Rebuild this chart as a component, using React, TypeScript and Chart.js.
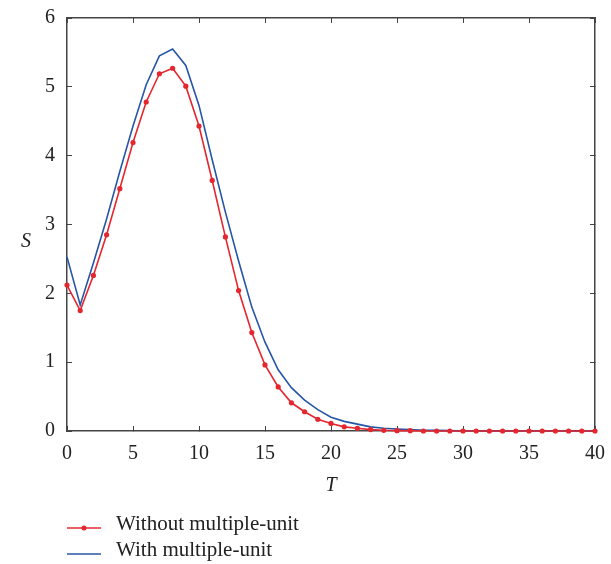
import React, { useEffect, useRef } from "react";
import { Chart, registerables } from "chart.js";

Chart.register(...registerables);

const tValues = [0, 1, 2, 3, 4, 5, 6, 7, 8, 9, 10, 11, 12, 13, 14, 15, 16, 17, 18, 19, 20, 21, 22, 23, 24, 25, 26, 27, 28, 29, 30, 31, 32, 33, 34, 35, 36, 37, 38, 39, 40];
const withoutMultipleUnit = [2.12, 1.75, 2.26, 2.85, 3.52, 4.19, 4.78, 5.19, 5.27, 5.01, 4.43, 3.64, 2.82, 2.04, 1.43, 0.96, 0.64, 0.41, 0.28, 0.17, 0.11, 0.06, 0.04, 0.02, 0.01, 0.005, 0.005, 0, 0, 0, 0, 0, 0, 0, 0, 0, 0, 0, 0, 0, 0];
const withMultipleUnit = [2.53, 1.83, 2.44, 3.08, 3.77, 4.43, 5.03, 5.45, 5.55, 5.31, 4.73, 3.94, 3.18, 2.47, 1.8, 1.29, 0.89, 0.63, 0.45, 0.31, 0.2, 0.14, 0.1, 0.06, 0.04, 0.03, 0.02, 0.01, 0.01, 0.005, 0, 0, 0, 0, 0, 0, 0, 0, 0, 0, 0];
const seriesLabels = ["Without multiple-unit", "With multiple-unit"];
const xTitle = "T";
const yTitle = "S";

const RED = "#e4262f";
const BLUE = "#2656a6";
const AXIS = "#444444";
const FONT = "'Liberation Serif', 'DejaVu Serif', serif";

export default function App() {
  const ref = useRef<HTMLCanvasElement | null>(null);

  useEffect(() => {
    if (!ref.current) return;

    const extras = {
      id: "extras",
      afterDraw(chart: any) {
        const ctx = chart.ctx;
        const ca = chart.chartArea;
        ctx.save();
        ctx.fillStyle = "#222";
        ctx.font = `italic 20px ${FONT}`;
        ctx.textAlign = "center";
        ctx.textBaseline = "alphabetic";
        ctx.fillText(xTitle, (ca.left + ca.right) / 2, ca.bottom + 60);
        ctx.fillText(yTitle, 26, (ca.top + ca.bottom) / 2 + 22);

        const items = [
          { label: seriesLabels[0], color: RED, dot: true, y: ca.bottom + 97, base: ca.bottom + 99 },
          { label: seriesLabels[1], color: BLUE, dot: false, y: ca.bottom + 123, base: ca.bottom + 125 },
        ];
        ctx.font = `21px ${FONT}`;
        ctx.textAlign = "left";
        for (const it of items) {
          ctx.strokeStyle = it.color;
          ctx.lineWidth = 1.5;
          ctx.beginPath();
          ctx.moveTo(ca.left, it.y);
          ctx.lineTo(ca.left + 34, it.y);
          ctx.stroke();
          if (it.dot) {
            ctx.fillStyle = it.color;
            ctx.beginPath();
            ctx.arc(ca.left + 17, it.y, 2.5, 0, Math.PI * 2);
            ctx.fill();
          }
          ctx.fillStyle = "#222";
          ctx.fillText(it.label, ca.left + 49, it.base);
        }
        ctx.restore();
      },
    };

    const noPad = (s: any) => {
      s.paddingTop = 0;
      s.paddingBottom = 0;
      s.paddingLeft = 0;
      s.paddingRight = 0;
    };

    const chart = new Chart(ref.current, {
      type: "line",
      data: {
        labels: tValues,
        datasets: [
          {
            label: seriesLabels[0],
            data: tValues.map((t, i) => ({ x: t, y: withoutMultipleUnit[i] })),
            borderColor: RED,
            backgroundColor: RED,
            borderWidth: 1.6,
            pointRadius: 2.6,
            pointBorderWidth: 0,
            pointBackgroundColor: RED,
            tension: 0,
            clip: false as any,
          },
          {
            label: seriesLabels[1],
            data: tValues.map((t, i) => ({ x: t, y: withMultipleUnit[i] })),
            borderColor: BLUE,
            backgroundColor: BLUE,
            borderWidth: 1.6,
            pointRadius: 0,
            tension: 0,
            clip: false as any,
          },
        ],
      },
      options: {
        responsive: false,
        animation: false,
        devicePixelRatio: 1,
        layout: { padding: { left: 0, right: 16, top: 18, bottom: 0 } },
        plugins: { legend: { display: false }, tooltip: { enabled: false } },
        scales: {
          x: {
            type: "linear",
            position: "bottom",
            min: 0,
            max: 40,
            ticks: { stepSize: 5, padding: 16, color: "#222", font: { family: FONT, size: 20 } },
            grid: { drawOnChartArea: false, tickLength: -5, color: AXIS, lineWidth: 1 },
            border: { color: AXIS, width: 1.5 },
            afterFit: (s: any) => { s.height = 133; noPad(s); },
          },
          x2: {
            type: "linear",
            position: "top",
            min: 0,
            max: 40,
            ticks: { stepSize: 5, display: false },
            grid: { drawOnChartArea: false, tickLength: -5, color: AXIS, lineWidth: 1 },
            border: { color: AXIS, width: 1.5 },
            afterFit: (s: any) => { s.height = 0; noPad(s); },
          },
          y: {
            type: "linear",
            position: "left",
            min: 0,
            max: 6,
            ticks: { stepSize: 1, padding: 17, color: "#222", font: { family: FONT, size: 20 } },
            grid: { drawOnChartArea: false, tickLength: -5, color: AXIS, lineWidth: 1 },
            border: { color: AXIS, width: 1.5 },
            afterFit: (s: any) => { s.width = 67; noPad(s); },
          },
          y2: {
            type: "linear",
            position: "right",
            min: 0,
            max: 6,
            ticks: { stepSize: 1, display: false },
            grid: { drawOnChartArea: false, tickLength: -5, color: AXIS, lineWidth: 1 },
            border: { color: AXIS, width: 1.5 },
            afterFit: (s: any) => { s.width = 0; noPad(s); },
          },
        },
      } as any,
      plugins: [extras],
    });

    return () => chart.destroy();
  }, []);

  return (
    <div style={{ position: "absolute", left: 0, top: 0, width: 611, height: 564, background: "#fff" }}>
      <canvas ref={ref} width={611} height={564} />
    </div>
  );
}
